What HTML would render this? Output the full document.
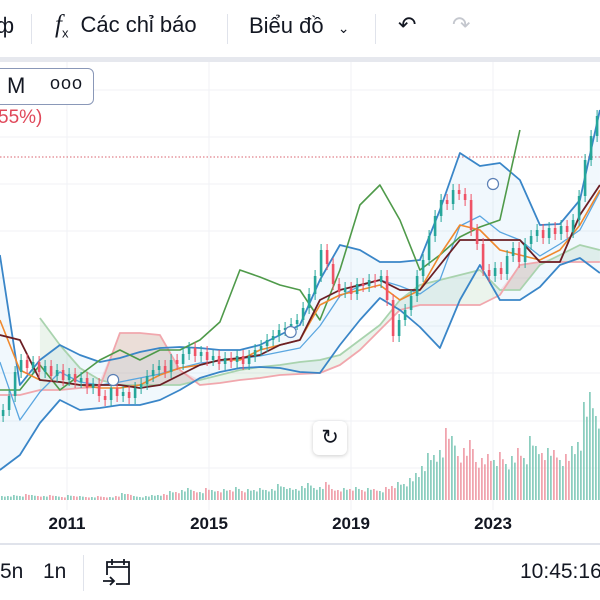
<!DOCTYPE html>
<html><head><meta charset="utf-8">
<style>
html,body{margin:0;padding:0;width:600px;height:600px;overflow:hidden;background:#fff;font-family:"Liberation Sans","Noto Sans CJK SC",sans-serif;}
.t{position:absolute;white-space:nowrap;color:#131722;}
</style></head><body>
<div style="position:absolute;left:0;top:0;width:600px;height:57px;background:#fff;">
  <div class="t" style="left:-4px;top:13px;font-size:22px;">ф</div>
  <div style="position:absolute;left:31px;top:14px;width:1px;height:30px;background:#e0e3eb"></div>
  <div class="t" style="left:55px;top:11px;font-size:22px;"><i style="font-family:'Liberation Serif',serif;font-size:25px">f</i><sub style="font-size:13px">x</sub><span style="margin-left:12px">Các chỉ báo</span></div>
  <div style="position:absolute;left:227px;top:14px;width:1px;height:30px;background:#e0e3eb"></div>
  <div class="t" style="left:249px;top:13px;font-size:22px;">Biểu đồ <span style="font-size:14px;margin-left:8px">&#8964;</span></div>
  <div style="position:absolute;left:375px;top:14px;width:1px;height:30px;background:#e0e3eb"></div>
  <div class="t" style="left:398px;top:12px;font-size:22px;">&#8630;</div>
  <div class="t" style="left:452px;top:12px;font-size:22px;color:#c4c7ce">&#8631;</div>
</div>
<div style="position:absolute;left:0;top:57px;width:600px;height:5px;background:#e6e8ee"></div>

<svg id="chart" width="600" height="600" style="position:absolute;left:0;top:0" xmlns="http://www.w3.org/2000/svg">
  <g id="grid"></g><g id="vol"></g><g id="ind"></g><g id="candles"></g><g id="marks"></g><g id="axis"></g>
</svg>

<div style="position:absolute;left:-6px;top:68px;width:98px;height:35px;border:1.5px solid #8a98b8;border-radius:6px;background:#fff;">
  <span class="t" style="left:12px;top:4px;font-size:22px;">M</span>
  <span class="t" style="left:55px;top:4px;font-size:18px;letter-spacing:1px">ooo</span>
</div>
<div class="t" style="left:-2px;top:107px;font-size:19px;color:#e0485a;">55%)</div>

<div style="position:absolute;left:313px;top:421px;width:34px;height:34px;border-radius:6px;background:#fff;box-shadow:0 1px 4px rgba(0,0,0,0.2);font-size:21px;text-align:center;line-height:34px;color:#131722">&#8635;</div>

<div style="position:absolute;left:0;top:543px;width:600px;height:2px;background:#e0e3eb"></div>
<div class="t" style="left:0;top:560px;font-size:21px;">5n</div>
<div class="t" style="left:43px;top:560px;font-size:21px;">1n</div>
<div style="position:absolute;left:83px;top:555px;width:1px;height:36px;background:#e0e3eb"></div>
<svg style="position:absolute;left:101px;top:557px" width="32" height="30" viewBox="0 0 32 30"><path d="M6 18V5h22v22H15M6 10h22M11 2v6M23 2v6M2 24h10M9 20l4 4-4 4" fill="none" stroke="#131722" stroke-width="1.8"/></svg>
<div class="t" style="left:520px;top:560px;font-size:21px;">10:45:16</div>

<script>
const candleCloses=[90,104,128,140,132,138,128,134,124,130,120,126,118,122,112,116,104,100,112,104,108,102,112,116,124,130,134,128,140,136,146,152,144,148,140,144,136,142,138,144,136,144,150,154,160,164,170,172,176,180,192,206,224,250,236,216,208,212,206,216,214,220,218,224,200,164,180,190,204,224,240,264,284,300,296,310,306,300,270,256,230,224,232,226,244,252,238,256,264,270,262,272,266,274,268,280,304,340,364,384];
const volumes=[4,4,5,4,6,5,4,4,5,4,3,5,4,4,3,3,4,3,3,4,7,6,4,3,4,5,5,6,9,8,10,12,9,8,12,10,9,11,10,13,9,11,10,12,10,11,16,13,12,11,14,17,12,13,18,11,10,12,11,13,10,12,11,9,13,14,18,16,22,27,34,47,45,50,72,64,44,52,60,38,42,46,40,48,36,44,52,42,64,54,47,52,50,40,46,54,58,98,108,84];
const bbUpper=[245,115,140,155,145,138,142,148,152,153,152,150,150,155,165,175,220,255,250,238,238,240,290,347,334,337,320,275,276,300,390];
const bbLower=[30,45,77,100,90,92,95,95,100,110,122,128,132,133,132,128,127,155,180,202,190,173,152,200,235,200,200,213,235,242,227];
const bbMiddle=[138,80,108,128,118,115,118,122,126,132,137,139,141,144,148,152,174,204,214,220,214,206,220,274,284,268,260,244,256,270,308];
const maLine=[180,130,120,118,115,112,112,115,125,132,135,140,140,150,155,160,195,205,210,215,200,210,245,275,270,250,245,240,250,275,310];
const baseLine=[165,160,120,118,115,115,115,112,115,125,135,140,142,145,155,160,200,210,215,220,210,210,235,260,260,260,260,238,238,285,315];
const laggingSpan=[110,110,135,110,125,140,150,140,150,150,160,178,230,223,215,210,180,230,295,315,280,230,245,263,273,280,370,null,null,null,null];
const spanA=[null,null,182,155,132,120,115,115,115,115,120,125,130,133,135,138,140,145,160,175,200,215,220,225,230,210,210,235,245,255,250];
const spanB=[105,105,110,110,112,113,167,167,165,130,115,117,120,122,125,126,127,135,150,170,190,195,195,195,195,205,235,238,238,238,238];
const yearTicks=[2011,2015,2019,2023];
const markerYears=[2012.3,2017.3,2023.0];
const markerPrices=[120,168,316];

const NS="http://www.w3.org/2000/svg";
function xScale(yr){return 67+(yr-2011)*35.5;}
function yScale(p){return 500-p;}
function candleYear(i){return 2009.2+i*6/35.5;}
function lineYear(j){return 2009.11+j*20/35.5;}
function mk(tag,attrs,parent){const e=document.createElementNS(NS,tag);for(const k in attrs)e.setAttribute(k,attrs[k]);parent.appendChild(e);return e;}
const G=id=>document.getElementById(id);

[90,137,184,231,278,326,373,421,468].forEach(y=>{const l=mk('line',{x1:0,x2:600,y1:y,y2:y,stroke:'#f0f2f5','stroke-width':1},G('grid'));

});
yearTicks.forEach(yr=>{const x=xScale(yr);const l=mk('line',{x1:x,x2:x,y1:62,y2:510,stroke:'#f0f2f5','stroke-width':1},G('grid'));


const t=mk('text',{x:x,y:529,'text-anchor':'middle','font-size':17,'font-weight':'bold',fill:'#131722','font-family':'Liberation Sans, sans-serif'},G('axis'));
t.textContent=String(yr);

});
const dl=mk('line',{x1:0,x2:600,y1:157,y2:157,stroke:'#d9636f','stroke-width':1,'stroke-dasharray':'1.5,2'},G('grid'));



function pts(arr){const o=[];arr.forEach((v,j)=>{if(v!==null)o.push([xScale(lineYear(j)),yScale(v)]);});return o;}
function path(arr,color,w,name){const p=pts(arr);const e=mk('polyline',{points:p.map(q=>q.join(',')).join(' '),fill:'none',stroke:color,'stroke-width':w,'stroke-linejoin':'round'},G('ind'));

return e;}
function band(a,b,fill,name){const pb=[],pa2=[];
b.forEach((v,j)=>{if(v!==null&&a[j]!==null)pb.push([xScale(lineYear(j)),yScale(v)]);});
a.forEach((v,j)=>{if(v!==null&&b[j]!==null)pa2.push([xScale(lineYear(j)),yScale(v)]);});
const d='M'+pa2.map(q=>q.join(',')).join(' L')+' L'+pb.reverse().map(q=>q.join(',')).join(' L')+'Z';
const e=mk('path',{d:d,fill:fill,stroke:'none'},G('ind'));

}

band(spanA,spanB,'rgba(120,180,130,0.15)','ichimoku-cloud');
const pink=[];spanA.forEach((v,j)=>pink.push(v!==null&&spanB[j]>v?spanB[j]:v));
band(pink,spanA,'rgba(240,120,130,0.18)','ichimoku-cloud-bear');
band(bbUpper,bbLower,'rgba(60,150,220,0.07)','bollinger-fill');
path(spanA,'#a9d3ae',1.8,'senkou-span-a');
path(spanB,'#f1a7ad',1.8,'senkou-span-b');
path(bbUpper,'#3a86c8',1.8,'bollinger-upper');
path(bbLower,'#3a86c8',1.8,'bollinger-lower');
path(bbMiddle,'#5aa6e0',1.3,'bollinger-middle');
path(laggingSpan,'#4f9a4a',1.6,'lagging-span');
path(maLine,'#f0892e',1.6,'moving-average');
path(baseLine,'#6b1f24',1.8,'base-line');

const up='#26a69a',dn='#ef5366';
candleCloses.forEach((c,i)=>{
  const o=i>0?candleCloses[i-1]:c-6;const x=xScale(candleYear(i));const col=c>=o?up:dn;
  const vc=c>=o?'#7fc9b8':'#ef9aa5';
  const v=mk('rect',{x:x-2,y:500-volumes[i],width:1.6,height:volumes[i],fill:vc},G('vol'));
  
  
  const v2=mk('rect',{x:x+1,y:500-volumes[i]*0.85,width:1.6,height:volumes[i]*0.85,fill:vc},G('vol'));
  
  
  const hi=Math.max(o,c)+6,lo=Math.min(o,c)-6;
  const w=mk('line',{x1:x,x2:x,y1:yScale(hi),y2:yScale(lo),stroke:col,'stroke-width':1},G('candles'));
  
  
  const r=mk('rect',{x:x-1.3,y:yScale(Math.max(o,c)),width:2.6,height:Math.max(1,Math.abs(c-o)),fill:col},G('candles'));
  
  
});
markerYears.forEach((yr,k)=>{const c=mk('circle',{cx:xScale(yr),cy:yScale(markerPrices[k]),r:5.5,fill:'#fff',stroke:'#5a7fb5','stroke-width':1.2},G('marks'));

});
</script>
</body></html>
